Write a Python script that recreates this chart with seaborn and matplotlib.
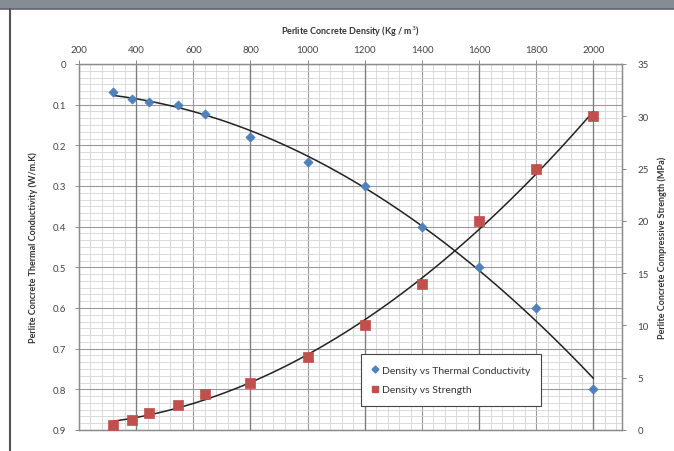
import numpy as np
import pandas as pd
import matplotlib
matplotlib.use("Agg")
import matplotlib.pyplot as plt
from matplotlib.ticker import MultipleLocator
from matplotlib.lines import Line2D
import matplotlib.patches as mpatches
import seaborn as sns

# ---- data ----
density = [320, 385, 445, 545, 640, 800, 1000, 1200, 1400, 1600, 1800, 2000]
conductivity = [0.07, 0.085, 0.093, 0.10, 0.123, 0.18, 0.24, 0.30, 0.40, 0.50, 0.60, 0.80]
strength = [0.5, 1.0, 1.6, 2.4, 3.4, 4.5, 7, 10, 14, 20, 25, 30]

x_ticks = [200, 400, 600, 800, 1000, 1200, 1400, 1600, 1800, 2000]
left_ticks = [0, 0.1, 0.2, 0.3, 0.4, 0.5, 0.6, 0.7, 0.8, 0.9]
left_tick_labels = ["0", "0.1", "0.2", "0.3", "0.4", "0.5", "0.6", "0.7", "0.8", "0.9"]
right_ticks = [0, 5, 10, 15, 20, 25, 30, 35]

xlabel = "Perlite Concrete Density (Kg / m$^3$)"
ylabel_left = "Perlite Concrete Thermal Conductivity (W/m.K)"
ylabel_right = "Perlite Concrete Compressive Strength (MPa)"
legend_labels = ["Density vs Thermal Conductivity", "Density vs Strength"]

df = pd.DataFrame({"density": density, "conductivity": conductivity, "strength": strength})

sns.set_theme(style="white")
plt.rcParams["font.family"] = ["Lato", "DejaVu Sans"]

fig = plt.figure(figsize=(6.74, 4.52), dpi=100)
fig.patch.set_facecolor("white")

# header band and left border
fig.patches.append(mpatches.Rectangle((0, 1 - 10 / 452), 1, 10 / 452, transform=fig.transFigure,
                                      facecolor="#858c94", edgecolor="none", zorder=0))
fig.lines.append(Line2D([0, 1], [1 - 10 / 452, 1 - 10 / 452], transform=fig.transFigure,
                        color="#5f666e", lw=1.2))
fig.lines.append(Line2D([10 / 674, 10 / 674], [0, 1 - 10 / 452], transform=fig.transFigure,
                        color="#555555", lw=1.5))

L, R, T, B = 79, 622, 65, 431
ax = fig.add_axes([L / 674, 1 - B / 452, (R - L) / 674, (B - T) / 452])
ax2 = ax.twinx()

blue = "#4f81bd"
red = "#c0504d"

ax.set_xlim(200, 2100)
ax.set_ylim(0.9, 0)
ax2.set_ylim(0, 35)

# grid
ax.set_axisbelow(True)
ax.xaxis.set_major_locator(MultipleLocator(200))
ax.xaxis.set_minor_locator(MultipleLocator(40))
ax.yaxis.set_major_locator(MultipleLocator(0.1))
ax.yaxis.set_minor_locator(MultipleLocator(0.1 / 6))
ax.grid(which="minor", color="#d4d4d4", lw=0.6)
ax.grid(which="major", color="#9a9a9a", lw=0.8)
for xv in range(400, 2100, 400):
    ax.axvline(xv, color="#7a7a7a", lw=0.9, zorder=0.6)

# scatter + trendlines
sns.regplot(data=df, x="density", y="conductivity", order=2, ci=None, scatter=False,
            ax=ax, line_kws=dict(color="#222222", lw=1.1))
sns.scatterplot(data=df, x="density", y="conductivity", ax=ax, marker="D", s=22,
                color=blue, edgecolor=blue, linewidth=0.5, zorder=3)
sns.regplot(data=df, x="density", y="strength", order=2, ci=None, scatter=False,
            ax=ax2, line_kws=dict(color="#222222", lw=1.1))
sns.scatterplot(data=df, x="density", y="strength", ax=ax2, marker="s", s=46,
                color=red, edgecolor=red, linewidth=0.5, zorder=3)

# axes formatting
ax.xaxis.tick_top()
ax.xaxis.set_label_position("top")
ax.set_xticks(x_ticks)
ax.set_xticklabels([str(v) for v in x_ticks])
ax.set_yticks(left_ticks)
ax.set_yticklabels(left_tick_labels)
ax2.set_yticks(right_ticks)
ax2.set_yticklabels([str(v) for v in right_ticks])
ax2.set_xlim(200, 2100)

tick_col = "#444444"
for a in (ax, ax2):
    a.tick_params(axis="both", which="major", labelsize=7, colors="#888888",
                  labelcolor=tick_col, length=3, width=0.7, direction="out")
    a.tick_params(axis="both", which="minor", length=0)
    for s in a.spines.values():
        s.set_color("#8c8c8c")
        s.set_linewidth(0.9)
ax.tick_params(axis="x", top=True, bottom=False, pad=4)
ax.tick_params(axis="y", left=True, pad=6)
ax2.tick_params(axis="y", right=True, pad=8)

ax.set_xlabel(xlabel, fontsize=6.5, fontweight="bold", color="#333333", labelpad=8)
ax.set_ylabel(ylabel_left, fontsize=6.5, fontweight="bold", color="#333333", labelpad=11)
ax2.set_ylabel(ylabel_right, fontsize=6.5, fontweight="bold", color="#333333", labelpad=6,
               rotation=90)

handles = [
    Line2D([], [], marker="D", color=blue, linestyle="none", markersize=3.5),
    Line2D([], [], marker="s", color=red, linestyle="none", markersize=5),
]
leg = ax2.legend(handles, legend_labels, loc="upper left", bbox_to_anchor=(0.519, 0.208),
                 frameon=True, fancybox=False, fontsize=7.5, handlelength=0.6,
                 handletextpad=0.3, borderpad=1.1, labelspacing=1.0, borderaxespad=0)
leg.get_frame().set_edgecolor("#444444")
leg.get_frame().set_linewidth(0.8)
leg.get_frame().set_alpha(1)
for t in leg.get_texts():
    t.set_color("#333333")

fig.savefig("out.png", dpi=100)
